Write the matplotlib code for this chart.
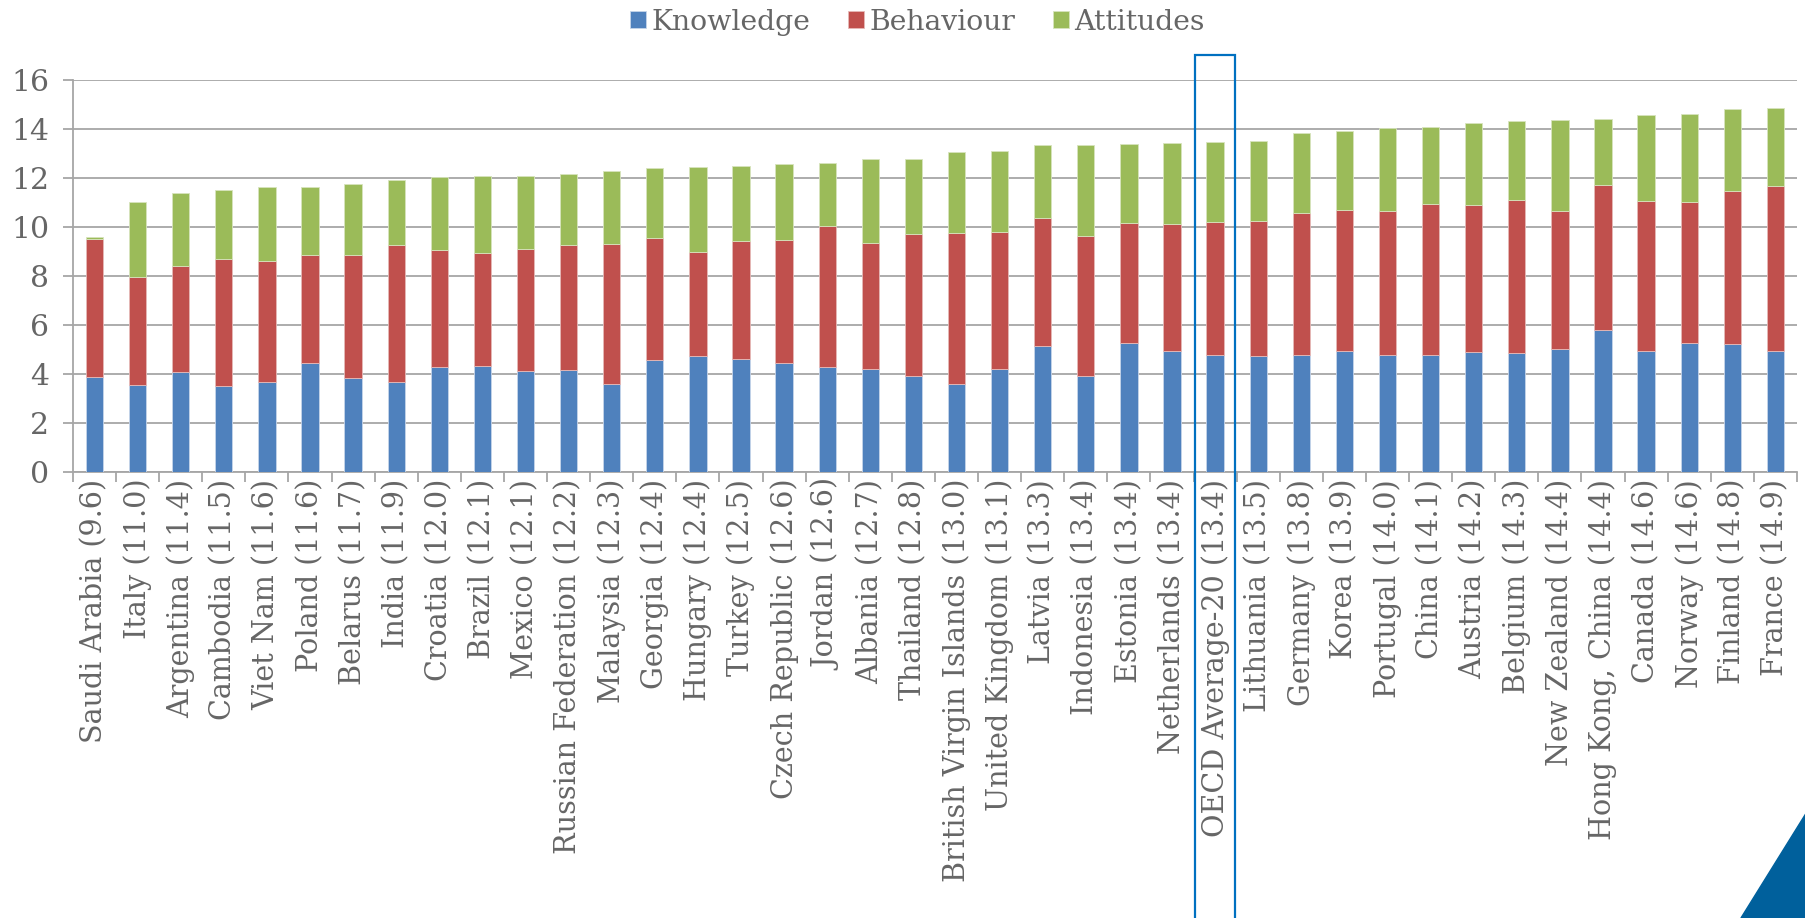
import matplotlib
matplotlib.use("Agg")
import matplotlib.pyplot as plt
from matplotlib.patches import Rectangle, Polygon
import numpy as np

plt.rcParams['font.family'] = ['DejaVu Serif', 'Liberation Serif']

# category labels (country + total score)
labels = ["Saudi Arabia (9.6)", "Italy (11.0)", "Argentina (11.4)", "Cambodia (11.5)",
          "Viet Nam (11.6)", "Poland (11.6)", "Belarus (11.7)", "India (11.9)",
          "Croatia (12.0)", "Brazil (12.1)", "Mexico (12.1)", "Russian Federation (12.2)",
          "Malaysia (12.3)", "Georgia (12.4)", "Hungary (12.4)", "Turkey (12.5)",
          "Czech Republic (12.6)", "Jordan (12.6)", "Albania (12.7)", "Thailand (12.8)",
          "British Virgin Islands (13.0)", "United Kingdom (13.1)", "Latvia (13.3)",
          "Indonesia (13.4)", "Estonia (13.4)", "Netherlands (13.4)", "OECD Average-20 (13.4)",
          "Lithuania (13.5)", "Germany (13.8)", "Korea (13.9)", "Portugal (14.0)",
          "China (14.1)", "Austria (14.2)", "Belgium (14.3)", "New Zealand (14.4)",
          "Hong Kong, China (14.4)", "Canada (14.6)", "Norway (14.6)", "Finland (14.8)",
          "France (14.9)"]

knowledge = [3.88, 3.54, 4.06, 3.49, 3.65, 4.43, 3.84, 3.66, 4.28, 4.32,
             4.11, 4.14, 3.60, 4.56, 4.71, 4.62, 4.43, 4.29, 4.18, 3.92,
             3.60, 4.21, 5.12, 3.92, 5.27, 4.92, 4.75, 4.73, 4.77, 4.92,
             4.77, 4.75, 4.89, 4.85, 5.00, 5.78, 4.93, 5.26, 5.22, 4.93]

behaviour = [5.63, 4.40, 4.36, 5.20, 4.97, 4.44, 5.03, 5.61, 4.79, 4.63,
             5.00, 5.11, 5.69, 5.00, 4.28, 4.82, 5.05, 5.73, 5.18, 5.80,
             6.16, 5.58, 5.26, 5.72, 4.90, 5.21, 5.46, 5.51, 5.81, 5.78,
             5.89, 6.20, 6.02, 6.25, 5.65, 5.93, 6.14, 5.74, 6.26, 6.75]

attitudes = [0.06, 3.09, 2.95, 2.80, 3.00, 2.76, 2.86, 2.63, 2.96, 3.12,
             2.97, 2.91, 2.98, 2.86, 3.46, 3.06, 3.09, 2.60, 3.39, 3.07,
             3.30, 3.30, 2.97, 3.72, 3.22, 3.30, 3.26, 3.26, 3.24, 3.20,
             3.38, 3.13, 3.31, 3.21, 3.72, 2.69, 3.50, 3.62, 3.32, 3.18]

highlight = "OECD Average-20 (13.4)"

gray = "#666666"
grid_c = "#A6A6A6"

fig = plt.figure(figsize=(18.06, 9.18), dpi=100)
ax = fig.add_axes([0.0404, 0.486, 0.9546, 0.427])

x = np.arange(len(labels))
k = np.array(knowledge)
b = np.array(behaviour)
a = np.array(attitudes)
w = 0.4
ax.bar(x, k, w, color="#4F81BD", edgecolor="#C6D5EA", linewidth=0.6, label="Knowledge", zorder=3)
ax.bar(x, b, w, bottom=k, color="#C0504D", edgecolor="#E6B9B8", linewidth=0.6, label="Behaviour", zorder=3)
ax.bar(x, a, w, bottom=k + b, color="#9BBB59", edgecolor="#D7E4BD", linewidth=0.6, label="Attitudes", zorder=3)

ax.set_xlim(-0.5, len(labels) - 0.5)
ax.set_ylim(0, 16)
ax.set_yticks(range(0, 17, 2))
ax.yaxis.grid(True, color=grid_c, linewidth=1.3, zorder=0)
ax.set_axisbelow(True)

ax.set_xticks(x)
ax.set_xticklabels(labels, rotation=90, fontsize=20.6, color=gray)
ax.set_xticks(np.arange(-0.5, len(labels), 1), minor=True)
ax.tick_params(axis="x", which="major", length=0, pad=5)
ax.tick_params(axis="x", which="minor", length=7, width=1.3, color=grid_c)
ax.tick_params(axis="y", length=7, width=1.3, color=grid_c, labelsize=21.5, labelcolor=gray, pad=10)

for s in ["top", "right"]:
    ax.spines[s].set_visible(False)
for s in ["left", "bottom"]:
    ax.spines[s].set_color(grid_c)
    ax.spines[s].set_linewidth(1.3)

fig.legend(loc="center", bbox_to_anchor=(0.508, 0.976), ncol=3, frameon=False,
           fontsize=20.3, handlelength=0.55, handleheight=0.55, handletextpad=0.2,
           columnspacing=1.35, labelcolor=gray)

# highlight box round the OECD average bar
i = labels.index(highlight)
x0 = ax.transData.transform((i - 0.5, 0))[0] / fig.bbox.width
x1 = ax.transData.transform((i + 0.5, 0))[0] / fig.bbox.width
fig.patches.append(Rectangle((x0 + 0.001, -0.01), x1 - x0 - 0.002, 0.95, transform=fig.transFigure,
                             fill=False, edgecolor="#0070C0", linewidth=1.6, clip_on=False))

# corner decoration
fig.patches.append(Polygon([(0.964, 0), (1, 0.114), (1, 0)], closed=True,
                           transform=fig.transFigure, color="#00609C"))

fig.savefig("out.png", dpi=100)
